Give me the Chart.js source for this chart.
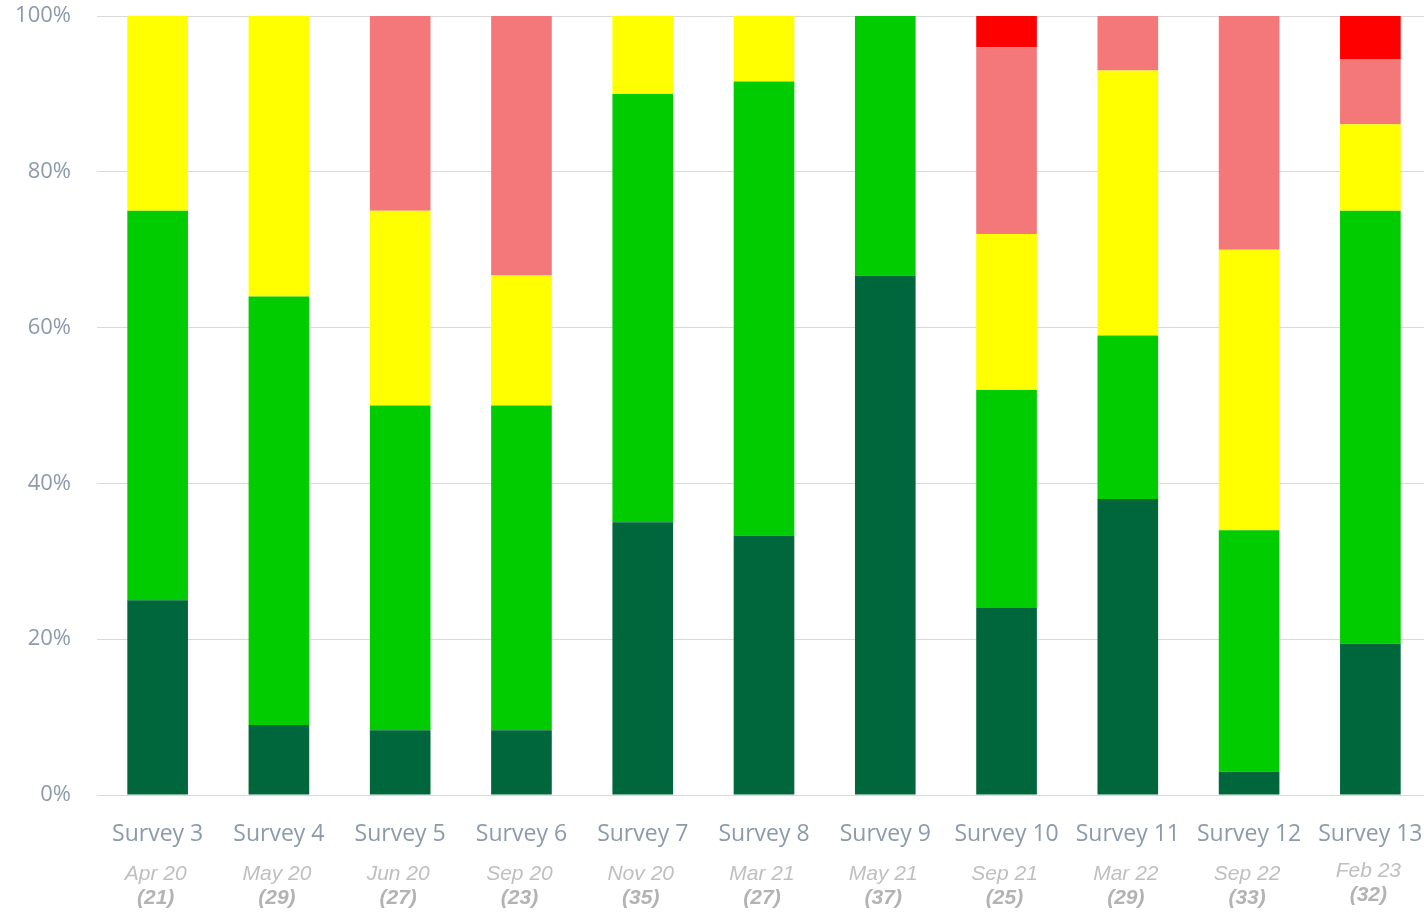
<!DOCTYPE html>
<html lang="en">
    <head>
        <meta charset="UTF-8">
        <title>Survey results</title>
        <script src="https://cdn.jsdelivr.net/npm/chart.js@4.4.1/dist/chart.umd.min.js"></script>
        <style>
            html, body { margin: 0; padding: 0; background: #fff; overflow: hidden; }
            canvas { display: block; }
        </style>
    </head>
    <body>
        <script>
            // categories and sub labels
            const surveys = ["Survey 3", "Survey 4", "Survey 5", "Survey 6", "Survey 7", "Survey 8",
                             "Survey 9", "Survey 10", "Survey 11", "Survey 12", "Survey 13"];
            const dates = ["Apr 20", "May 20", "Jun 20", "Sep 20", "Nov 20", "Mar 21",
                           "May 21", "Sep 21", "Mar 22", "Sep 22", "Feb 23"];
            const counts = [21, 29, 27, 23, 35, 27, 37, 25, 29, 33, 32];

            // share of answers per survey (%), bottom to top
            const darkGreen = [25, 9, 8.3, 8.3, 35, 33.3, 66.7, 24, 38, 3, 19.4];
            const green     = [50, 55, 41.7, 41.7, 55, 58.3, 33.3, 28, 21, 31, 55.6];
            const yellow    = [25, 36, 25, 16.7, 10, 8.4, 0, 20, 34, 36, 11.1];
            const salmon    = [0, 0, 25, 33.3, 0, 0, 0, 24, 7, 30, 8.3];
            const red       = [0, 0, 0, 0, 0, 0, 0, 4, 0, 0, 5.6];

            const yTicks = [0, 20, 40, 60, 80, 100];
        </script>

        <!-- a bit wider than the window: last column runs past the edge in the original -->
        <canvas id="surveyChart" width="1431" height="912"></canvas>

        <script>
            // date + (count) under each survey name
            const subLabels = {
                id: 'subLabels',
                afterDraw(chart) {
                    const ctx = chart.ctx;
                    const x = chart.scales.x;
                    ctx.save();
                    ctx.textAlign = 'center';
                    ctx.textBaseline = 'middle';
                    for (let i = 0; i < surveys.length; i++) {
                        let px = x.getPixelForValue(i);
                        // last one sits a bit higher in the original
                        let dy = (i == surveys.length - 1) ? -3 : 0;
                        ctx.fillStyle = '#BFBFBF';
                        ctx.font = 'italic 21px "Liberation Sans Narrow", "Liberation Sans", sans-serif';
                        ctx.fillText(dates[i], px - 2, 874 + dy);
                        ctx.fillStyle = '#B3B3B3';
                        ctx.font = 'italic bold 21px "Liberation Sans Narrow", "Liberation Sans", sans-serif';
                        ctx.fillText('(' + counts[i] + ')', px - 2, 898 + dy);
                    }
                    ctx.restore();
                }
            };

            let ctx = document.getElementById('surveyChart').getContext('2d');
            let myChart = new Chart(ctx, {
                type: 'bar',
                data: {
                    labels: surveys,
                    datasets: [
                        { label: 'Dark green', data: darkGreen, backgroundColor: '#00663C' },
                        { label: 'Green', data: green, backgroundColor: '#00CC00' },
                        { label: 'Yellow', data: yellow, backgroundColor: '#FFFF00' },
                        { label: 'Salmon', data: salmon, backgroundColor: '#F4777A' },
                        { label: 'Red', data: red, backgroundColor: '#FF0000' }
                    ]
                },
                options: {
                    responsive: false,
                    animation: false,
                    layout: { padding: { top: 4, right: 0, bottom: 0, left: 0 } },
                    datasets: {
                        bar: { categoryPercentage: 1, barPercentage: 0.5, borderWidth: 0 }
                    },
                    scales: {
                        x: {
                            stacked: true,
                            grid: { display: false },
                            border: { display: false },
                            ticks: {
                                color: '#8C9AAB',
                                font: { family: '"Open Sans", sans-serif', size: 23 },
                                padding: 18,
                                maxRotation: 0,
                                autoSkip: false
                            },
                            afterFit(scale) {
                                scale.height = 117;
                                scale.paddingLeft = 0;
                                scale.paddingRight = 0;
                            }
                        },
                        y: {
                            stacked: true,
                            min: 0,
                            max: 100,
                            afterBuildTicks(scale) {
                                scale.ticks = yTicks.map(v => ({ value: v }));
                            },
                            grid: { color: '#D9D9D9', lineWidth: 1, drawTicks: false, tickLength: 0 },
                            border: { display: false },
                            ticks: {
                                color: '#8C9AAB',
                                font: { family: '"Open Sans", sans-serif', size: 22 },
                                padding: 26,
                                callback: v => v + '%'
                            },
                            afterFit(scale) {
                                scale.width = 97;
                                scale.paddingTop = 16;
                            }
                        }
                    },
                    plugins: {
                        legend: { display: false },
                        tooltip: { enabled: false }
                    }
                },
                plugins: [subLabels]
            });
        </script>
    </body>
</html>
